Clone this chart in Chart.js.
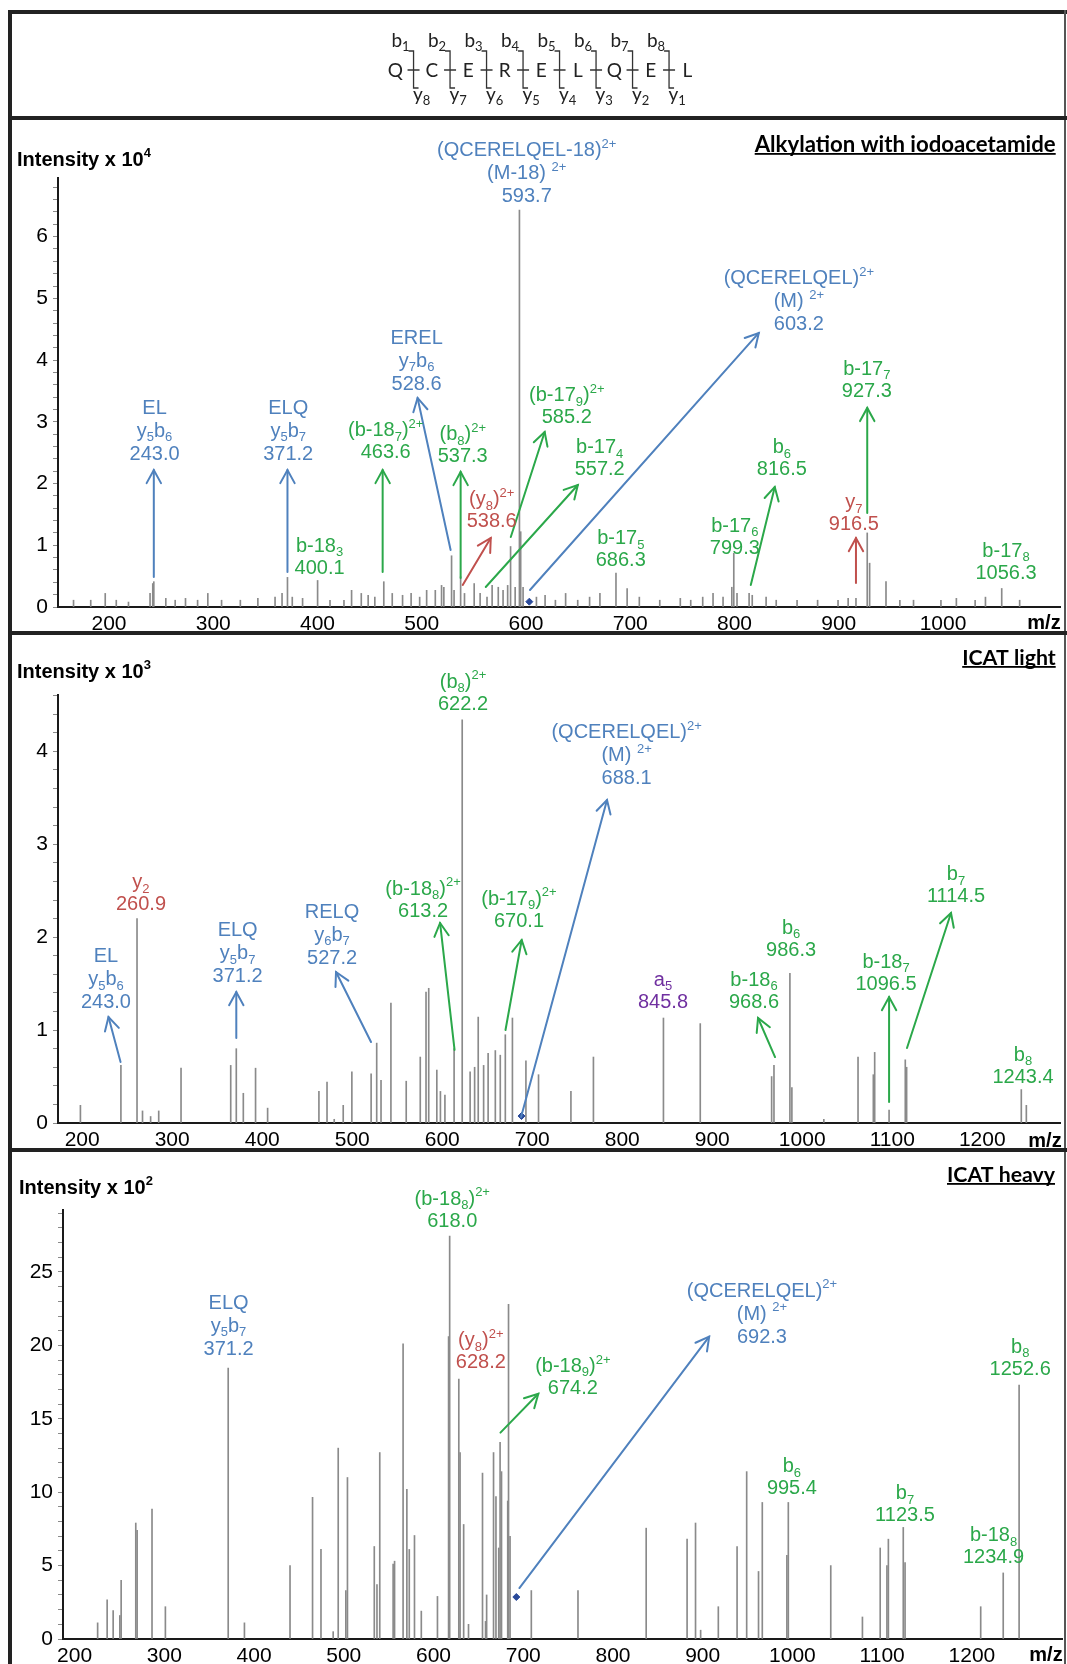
<!DOCTYPE html>
<html><head><meta charset="utf-8">
<script src="https://cdn.jsdelivr.net/npm/chart.js@4.4.0/dist/chart.umd.min.js"></script>
<style>
html,body{margin:0;padding:0;background:#fff}
body{width:1067px;height:1664px;position:relative;overflow:hidden}
canvas{position:absolute;left:0;top:0}
.fr{position:absolute;background:#222;z-index:5}
svg{position:absolute;left:0;top:0;z-index:4}
</style></head><body>
<canvas id="c1" width="1067" height="1664"></canvas>
<canvas id="c2" width="1067" height="1664"></canvas>
<canvas id="c3" width="1067" height="1664"></canvas>
<svg id="hdr" width="1067" height="120"></svg>
<div class="fr" style="left:8px;top:10px;width:1059px;height:4px"></div>
<div class="fr" style="left:8px;top:10px;width:4px;height:1654px"></div>
<div class="fr" style="left:1064px;top:10px;width:2px;height:1654px;background:#555"></div>
<div class="fr" style="left:8px;top:116px;width:1059px;height:4px"></div>
<div class="fr" style="left:8px;top:631px;width:1059px;height:4px"></div>
<div class="fr" style="left:8px;top:1148px;width:1059px;height:4px"></div>
<script>
// ---------------- DATA ----------------
const sequence = ['Q','C','E','R','E','L','Q','E','L'];

// Panel 1: Alkylation with iodoacetamide (intensity x 10^4)
const p1Mz = [166,182.5,196.4,207,218.7,239.4,242,243.0,254.5,263.5,273.4,285,294.8,308,326,342.8,359.3,366,371.2,375.8,385.7,400.1,412,425.4,432.7,442,448.6,455,463.6,471.7,481.6,489.8,498,504.7,513,519,521.2,528.6,531,537.3,541,550.3,556,562.6,567.5,573.4,578,582.4,585.2,589.6,593.7,594.9,597.2,610,618.3,628.2,638,649.6,661,670.9,686.3,697,708.7,728.3,748,758,769.5,779.4,789,797.4,799.3,802.4,814,817,830.3,840,860,879.7,899.3,909,916.5,927.3,929.6,945.3,958.6,971.7,998,1012.8,1030.8,1040.7,1056.3,1073.5];
const p1Int = [0.11,0.11,0.22,0.11,0.08,0.22,0.38,0.41,0.14,0.11,0.14,0.11,0.22,0.11,0.11,0.14,0.16,0.22,0.48,0.16,0.14,0.43,0.11,0.11,0.27,0.22,0.19,0.16,0.41,0.22,0.19,0.22,0.16,0.27,0.27,0.35,0.32,0.83,0.27,0.49,0.22,0.38,0.22,0.16,0.35,0.32,0.27,0.35,0.98,0.32,6.43,1.22,0.32,0.16,0.19,0.11,0.22,0.11,0.16,0.22,0.55,0.30,0.16,0.11,0.14,0.11,0.16,0.22,0.16,0.32,0.87,0.22,0.22,0.19,0.16,0.11,0.11,0.11,0.11,0.14,0.14,1.2,0.71,0.41,0.11,0.11,0.11,0.14,0.11,0.16,0.30,0.11];
const p1Prec = [603.2]; const p1PrecInt = [0.086];
const p1XTicks = [200,300,400,500,600,700,800,900,1000];
const p1YLabels = [0,1,2,3,4,5,6];

// Panel 2: ICAT light (intensity x 10^3)
const p2Mz = [198,243.0,260.9,267,276,285,309.8,365,371.2,379,392.6,406,463,472,480,490,499.6,521,527.2,532,543,560,575.6,582,585,594,598,603,613.2,622.2,631,636,640,646,651,659,664.5,670.1,678,693,707,743,768,845.8,886.7,966,968.6,986.3,988.5,1024,1062,1079,1080.5,1096.5,1114.5,1116,1243.4,1249];
const p2Int = [0.19,0.62,2.2,0.13,0.07,0.13,0.59,0.62,0.8,0.32,0.59,0.16,0.34,0.44,0.04,0.19,0.55,0.53,0.86,0.46,1.29,0.45,0.71,1.41,1.45,0.57,0.34,0.3,0.8,4.34,0.55,0.6,1.14,0.62,0.75,0.78,0.73,0.95,1.13,0.67,0.52,0.34,0.71,1.13,1.07,0.5,0.62,1.61,0.38,0.04,0.71,0.52,0.76,0.14,0.68,0.6,0.36,0.19];
const p2Prec = [688.1]; const p2PrecInt = [0.075];
const p2XTicks = [200,300,400,500,600,700,800,900,1000,1100,1200];
const p2YLabels = [0,1,2,3,4];

// Panel 3: ICAT heavy (intensity x 10^2)
const p3Mz = [225.7,236.3,243,250.4,251.9,268.2,269.7,286.3,301.2,371.2,389.3,440.1,465.2,474.6,488.2,493.8,502.3,504.1,534,537,540.1,555,556.6,566.1,570.3,573,578.8,586.4,604.4,616.8,618.0,628.2,629.6,633.6,639,654.6,658,659.2,666.9,669.6,672.7,674.2,675.8,682.7,683.6,685.3,709,761,837,882.6,892,897.7,917.4,938.3,949,962.2,966.4,993.8,995.4,1042.7,1078,1097.8,1105.3,1106.9,1123.5,1125.5,1209.8,1234.9,1252.6];
const p3Int = [1.1,2.66,1.93,1.6,4.0,7.9,7.4,8.85,2.2,18.45,1.1,5.0,9.65,6.1,0.5,13.0,3.3,11.0,6.3,3.7,12.7,5.1,5.3,20.1,10.2,6.1,7.05,1.9,2.9,20.6,27.45,17.7,12.7,7.8,1.0,11.3,1.2,3.0,12.7,9.7,6.2,13.4,11.4,9.4,22.8,7.0,3.3,3.3,7.55,6.8,7.9,0.6,2.2,6.3,11.4,4.6,9.3,5.7,9.3,5.0,1.5,6.2,5.0,6.8,7.6,5.2,2.2,4.5,17.3];
const p3Prec = [692.3]; const p3PrecInt = [2.86];
const p3XTicks = [200,300,400,500,600,700,800,900,1000,1100,1200];
const p3YLabels = [0,5,10,15,20,25];

// ---------------- STYLE ----------------
const B='#4F81BD', G='#2BA84A', R='#C0504D', PU='#7030A0';
const FAM="'Liberation Sans', Arial, sans-serif";
Chart.defaults.font.family = FAM;

// annotation config (data coordinates: m/z, intensity of last text line)
const p1Ann = {
 labels:[
  {x:243.7,y:2.464,c:B,l:['EL','y_{5}b_{6}','243.0']},
  {x:371.9,y:2.464,c:B,l:['ELQ','y_{5}b_{7}','371.2']},
  {x:402,y:0.632,c:G,l:['b-18_{3}','400.1']},
  {x:465.4,y:2.496,c:G,l:['(b-18_{7})^{2+}','463.6']},
  {x:495.1,y:3.598,c:B,l:['EREL','y_{7}b_{6}','528.6']},
  {x:539.3,y:2.431,c:G,l:['(b_{8})^{2+}','537.3']},
  {x:567.1,y:1.378,c:R,l:['(y_{8})^{2+}','538.6']},
  {x:639.1,y:3.063,c:G,l:['(b-17_{9})^{2+}','585.2']},
  {x:670.7,y:2.22,c:G,l:['b-17_{4}','557.2']},
  {x:861.7,y:4.57,c:B,l:['(QCERELQEL)^{2+}','(M) ^{2+}','603.2']},
  {x:690.9,y:0.746,c:G,l:['b-17_{5}','686.3']},
  {x:800.3,y:0.956,c:G,l:['b-17_{6}','799.3']},
  {x:845.4,y:2.22,c:G,l:['b_{6}','816.5']},
  {x:914.5,y:1.329,c:R,l:['y_{7}','916.5']},
  {x:926.9,y:3.485,c:G,l:['b-17_{7}','927.3']},
  {x:1060.4,y:0.551,c:G,l:['b-17_{8}','1056.3']},
  {x:600.7,y:6.645,c:B,l:['(QCERELQEL-18)^{2+}','(M-18) ^{2+}','593.7']}
 ],
 arrows:[
  [243.0,0.486,243.0,2.22,B],[371.2,0.567,371.2,2.22,B],[462.5,0.567,462.5,2.22,G],
  [527.7,0.924,496,3.387,B],[537.3,0.47,537.3,2.188,G],[539.3,0.357,566.2,1.118,R],
  [585.4,1.134,617.9,2.836,G],[561.4,0.324,649.7,1.977,G],[603.8,0.276,823.3,4.44,B],
  [815.6,0.357,838.6,1.945,G],[916.5,0.389,916.5,1.118,R],[927.3,1.523,927.3,3.225,G]
 ],
 texts:[
  {k:'int',t:'Intensity x 10^{4}',x:17,y:160},
  {k:'title',t:'Alkylation with iodoacetamide',x:1055.7,y:145,w:301},
  {k:'mz',t:'m/z',x:1044,y:623}
 ]
};
const p2Ann = {
 labels:[
  {x:623.1,y:4.51,c:G,l:['(b_{8})^{2+}','622.2']},
  {x:265.3,y:2.347,c:R,l:['y_{2}','260.9']},
  {x:226.4,y:1.292,c:B,l:['EL','y_{5}b_{6}','243.0']},
  {x:372.7,y:1.572,c:B,l:['ELQ','y_{5}b_{7}','371.2']},
  {x:477.6,y:1.776,c:B,l:['RELQ','y_{6}b_{7}','527.2']},
  {x:578.7,y:2.282,c:G,l:['(b-18_{8})^{2+}','613.2']},
  {x:685.3,y:2.174,c:G,l:['(b-17_{9})^{2+}','670.1']},
  {x:804.9,y:3.703,c:B,l:['(QCERELQEL)^{2+}','(M) ^{2+}','688.1']},
  {x:845.3,y:1.302,c:PU,l:['a_{5}','845.8']},
  {x:987.6,y:1.862,c:G,l:['b_{6}','986.3']},
  {x:946.4,y:1.302,c:G,l:['b-18_{6}','968.6']},
  {x:1093.1,y:1.496,c:G,l:['b-18_{7}','1096.5']},
  {x:1170.9,y:2.433,c:G,l:['b_{7}','1114.5']},
  {x:1245.3,y:0.495,c:G,l:['b_{8}','1243.4']}
 ],
 arrows:[
  [242.6,0.657,229.2,1.141,B],[371.2,0.915,371.2,1.41,B],[520.9,0.872,482,1.625,B],
  [613.7,0.786,597.6,2.153,G],[670.3,1.001,688.3,1.97,G],[687.6,0.065,783.1,3.477,B],
  [969.8,0.71,950.9,1.13,G],[1096.5,0.226,1096.5,1.356,G],[1116.4,0.807,1165.3,2.26,G]
 ],
 texts:[
  {k:'int',t:'Intensity x 10^{3}',x:17,y:672},
  {k:'title',t:'ICAT light',x:1055.7,y:658,w:93.5},
  {k:'mz',t:'m/z',x:1045,y:1141}
 ]
};
const p3Ann = {
 labels:[
  {x:620.9,y:28.47,c:G,l:['(b-18_{8})^{2+}','618.0']},
  {x:371.6,y:19.75,c:B,l:['ELQ','y_{5}b_{7}','371.2']},
  {x:652.7,y:18.8,c:R,l:['(y_{8})^{2+}','628.2']},
  {x:755.3,y:17.06,c:G,l:['(b-18_{9})^{2+}','674.2']},
  {x:966,y:20.57,c:B,l:['(QCERELQEL)^{2+}','(M) ^{2+}','692.3']},
  {x:1253.8,y:18.36,c:G,l:['b_{8}','1252.6']},
  {x:999.4,y:10.22,c:G,l:['b_{6}','995.4']},
  {x:1125.4,y:8.38,c:G,l:['b_{7}','1123.5']},
  {x:1224.1,y:5.52,c:G,l:['b-18_{8}','1234.9']}
 ],
 arrows:[[674.6,14.06,716.8,16.7,G],[695.7,3.47,907.2,20.6,B]],
 texts:[
  {k:'int',t:'Intensity x 10^{2}',x:19,y:1188},
  {k:'title',t:'ICAT heavy',x:1055,y:1175,w:108},
  {k:'mz',t:'m/z',x:1046,y:1655}
 ]
};

// ---------------- DRAWING HELPERS ----------------
function parseRich(s){
  const parts=[]; const re=/(_\{[^}]*\}|\^\{[^}]*\})/g; let last=0,m;
  while((m=re.exec(s))){ if(m.index>last) parts.push({t:s.slice(last,m.index),k:'n'});
    parts.push({t:m[0].slice(2,-1),k:m[0][0]==='_'?'sub':'sup'}); last=re.lastIndex; }
  if(last<s.length) parts.push({t:s.slice(last),k:'n'});
  return parts;
}
function drawRich(ctx,s,cx,cy,color,size,bold,align){
  const parts=parseRich(s);
  const fn=k=>(bold?'bold ':'')+(k==='n'?size:Math.round(size*0.66))+'px '+FAM;
  let w=0; parts.forEach(p=>{ctx.font=fn(p.k); p.w=ctx.measureText(p.t).width; w+=p.w;});
  let x= align==='left'?cx:cx-w/2;
  ctx.fillStyle=color; ctx.textBaseline='middle'; ctx.textAlign='left';
  parts.forEach(p=>{ctx.font=fn(p.k); const dy=p.k==='sub'?size*0.3:(p.k==='sup'?-size*0.33:0);
    ctx.fillText(p.t,x,cy+dy); x+=p.w;});
}
function drawArrow(ctx,x1,y1,x2,y2,color){
  ctx.strokeStyle=color; ctx.lineWidth=2; ctx.lineCap='round';
  ctx.beginPath(); ctx.moveTo(x1,y1); ctx.lineTo(x2,y2); ctx.stroke();
  const a=Math.atan2(y2-y1,x2-x1), L=15, h=0.5;
  ctx.beginPath();
  ctx.moveTo(x2-L*Math.cos(a-h),y2-L*Math.sin(a-h)); ctx.lineTo(x2,y2);
  ctx.lineTo(x2-L*Math.cos(a+h),y2-L*Math.sin(a+h)); ctx.stroke();
}
const annot={
  id:'annot',
  afterDatasetsDraw(chart){
    const o=chart.options.plugins.annot; if(!o) return;
    const ctx=chart.ctx, xs=chart.scales.x, ys=chart.scales.y;
    ctx.save();
    o.arrows.forEach(a=>drawArrow(ctx,xs.getPixelForValue(a[0]),ys.getPixelForValue(a[1]),xs.getPixelForValue(a[2]),ys.getPixelForValue(a[3]),a[4]));
    o.labels.forEach(lb=>{
      const cx=xs.getPixelForValue(lb.x), cy=ys.getPixelForValue(lb.y);
      const n=lb.l.length, sp=n===3?23:22;
      lb.l.forEach((t,i)=>drawRich(ctx,t,cx,cy-(n-1-i)*sp,lb.c,20,false,'center'));
    });
    o.texts.forEach(t=>{
      if(t.k==='int') drawRich(ctx,t.t,t.x,t.y,'#000',20,true,'left');
      else if(t.k==='mz'){ctx.font='bold 20px '+FAM; ctx.fillStyle='#000'; ctx.textAlign='center'; ctx.textBaseline='middle'; ctx.fillText(t.t,t.x,t.y);}
      else {
        const fam="Lato, 'Open Sans', sans-serif";
        ctx.font='bold 100px '+fam; const w100=ctx.measureText(t.t).width;
        const sz=100*t.w/w100;
        ctx.font='bold '+sz.toFixed(2)+'px '+fam; ctx.fillStyle='#000'; ctx.textAlign='right'; ctx.textBaseline='middle';
        ctx.fillText(t.t,t.x,t.y);
        ctx.fillRect(t.x-t.w,t.y+8,t.w,1.8);
      }
    });
    ctx.restore();
  }
};

function yTicksFor(max,step){const a=[];for(let v=0;v<=max+1e-9;v=Math.round((v+step)*1000)/1000)a.push(v);return a;}

function makeChart(id,P){
  return new Chart(document.getElementById(id),{
    type:'bar',
    data:{datasets:[
      {type:'bar',data:P.mz.map((m,i)=>({x:m,y:P.inten[i]})),backgroundColor:'#8a8a8a',barThickness:1,borderWidth:0,order:2},
      {type:'scatter',data:P.prec.map((m,i)=>({x:m,y:P.precInt[i]})),pointStyle:'rectRot',pointRadius:3.5,backgroundColor:'#2a4a9a',borderColor:'#2a4a9a',order:1}
    ]},
    options:{
      responsive:false,animation:false,events:[],
      layout:{padding:{left:0,top:P.top,right:1067-P.right,bottom:0}},
      plugins:{legend:{display:false},tooltip:{enabled:false},annot:P.ann},
      scales:{
        x:{type:'linear',min:P.xmin,max:P.xmax,offset:false,
           grid:{display:false,drawTicks:false},
           border:{display:true,color:'#1a1a1a',width:2},
           ticks:{font:{size:21},color:'#000',padding:5,maxRotation:0,autoSkip:false,callback:v=>String(v)},
           afterBuildTicks:s=>{s.ticks=P.xticks.map(v=>({value:v}));},
           afterFit:s=>{s.height=1664-P.bottom;}},
        y:{type:'linear',min:0,max:P.ymax,
           grid:{display:true,drawOnChartArea:false,drawTicks:true,tickLength:5,color:'#8a8a8a',lineWidth:1},
           border:{display:true,color:'#1a1a1a',width:2},
           ticks:{font:{size:21},color:'#000',padding:5,autoSkip:false,
             callback:v=>{const r=Math.round(v);return (Math.abs(v-r)<1e-6 && P.ylabels.includes(r))?String(r):'';}},
           afterBuildTicks:s=>{s.ticks=yTicksFor(P.ymax,P.ystep).map(v=>({value:v}));},
           afterFit:s=>{s.width=P.left;}}
      }
    },
    plugins:[annot]
  });
}

makeChart('c1',{mz:p1Mz,inten:p1Int,prec:p1Prec,precInt:p1PrecInt,xticks:p1XTicks,ylabels:p1YLabels,
  top:178,bottom:607,left:58,right:1060,xmin:151.1,xmax:1112.2,ymax:6.95,ystep:0.2,ann:p1Ann});
makeChart('c2',{mz:p2Mz,inten:p2Int,prec:p2Prec,precInt:p2PrecInt,xticks:p2XTicks,ylabels:p2YLabels,
  top:695,bottom:1123,left:58,right:1060,xmin:173.1,xmax:1286.4,ymax:4.607,ystep:0.2,ann:p2Ann});
makeChart('c3',{mz:p3Mz,inten:p3Int,prec:p3Prec,precInt:p3PrecInt,xticks:p3XTicks,ylabels:p3YLabels,
  top:1210,bottom:1639,left:63,right:1065,xmin:187.1,xmax:1300.4,ymax:29.22,ystep:1,ann:p3Ann});

// ---------------- HEADER (peptide fragmentation scheme) ----------------
(function(){
  const svg=document.getElementById('hdr'); const NS='http://www.w3.org/2000/svg';
  const F="Lato, 'Open Sans', sans-serif";
  function el(tag,attrs,parent){const e=document.createElementNS(NS,tag);for(const k in attrs)e.setAttribute(k,attrs[k]);(parent||svg).appendChild(e);return e;}
  function lab(x,y,main,sub){const t=el('text',{x:x,y:y,'font-family':F,'font-size':19,fill:'#222','text-anchor':'middle'});
    const a=el('tspan',{},t);a.textContent=main;const b=el('tspan',{'font-size':13,dy:4},t);b.textContent=sub;}
  const x0=395.3, step=36.5;
  sequence.forEach((s,i)=>{const t=el('text',{x:x0+i*step,y:77,'font-family':F,'font-size':19,fill:'#222','text-anchor':'middle'});t.textContent=s;});
  for(let i=0;i<sequence.length-1;i++){
    const xv=x0+step/2+i*step;
    el('path',{d:`M${xv-5} 51 H${xv} V88 H${xv+5} M${xv-6} 70 H${xv+6}`,stroke:'#333','stroke-width':1.3,fill:'none'});
    lab(xv-13,47,'b',String(i+1));
    lab(xv+8,101,'y',String(8-i));
  }
})();
</script>
</body></html>
